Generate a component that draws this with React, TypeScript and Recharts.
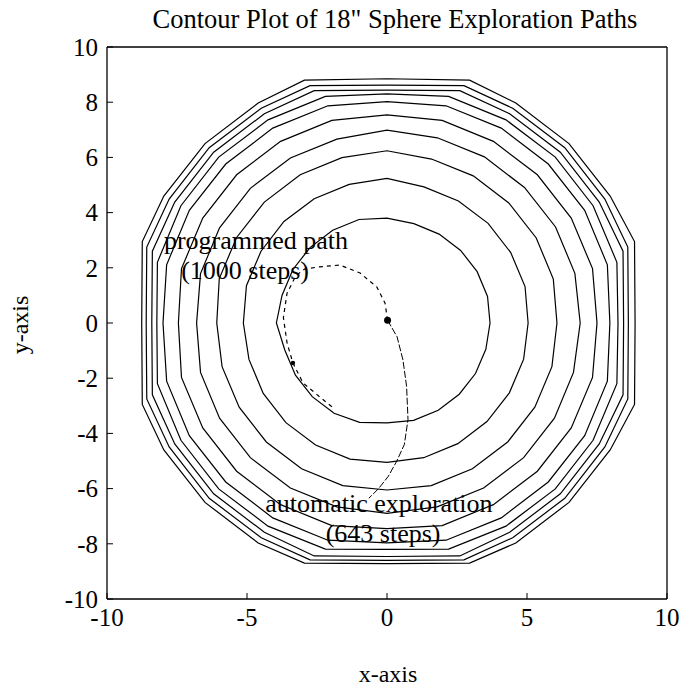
import { LineChart, Line, XAxis, YAxis, ReferenceDot } from "recharts";

type Pair = [number, number];

const xTicks = [-10, -5, 0, 5, 10];
const yTicks = [-10, -8, -6, -4, -2, 0, 2, 4, 6, 8, 10];

// contour vertices, innermost first
const contour1: Pair[] = [
  [3.68, 0], [3.59, 0.96], [3.22, 1.86], [2.63, 2.63], [1.86, 3.22], [0.96, 3.6], [0, 3.8],
  [-1.0, 3.75], [-1.94, 3.36], [-2.74, 2.74], [-3.36, 1.94], [-3.75, 1.0], [-3.95, 0],
  [-3.65, -0.98], [-3.27, -1.89], [-2.67, -2.67], [-1.89, -3.27], [-0.98, -3.6], [0, -3.62],
  [0.95, -3.53], [1.83, -3.16], [2.58, -2.58], [3.16, -1.83], [3.53, -0.95],
];
const contour2: Pair[] = [
  [5.04, 0], [4.93, 1.32], [4.42, 2.55], [3.61, 3.61], [2.55, 4.42], [1.32, 4.93], [0, 5.24],
  [-1.35, 5.02], [-2.6, 4.5], [-3.68, 3.68], [-4.5, 2.6], [-5.02, 1.35], [-5.13, 0],
  [-4.93, -1.32], [-4.42, -2.55], [-3.61, -3.61], [-2.55, -4.42], [-1.32, -4.93], [0, -5.05],
  [1.31, -4.88], [2.53, -4.37], [3.57, -3.57], [4.37, -2.53], [4.88, -1.31],
];
const contour3: Pair[] = [
  [6.07, 0], [5.94, 1.59], [5.33, 3.08], [4.35, 4.35], [3.08, 5.33], [1.59, 5.94], [0, 6.24],
  [-1.61, 5.99], [-3.1, 5.37], [-4.38, 4.38], [-5.37, 3.1], [-5.99, 1.61], [-6.08, 0],
  [-5.89, -1.58], [-5.28, -3.05], [-4.31, -4.31], [-3.05, -5.28], [-1.58, -5.89], [0, -6.05],
  [1.58, -5.89], [3.05, -5.28], [4.31, -4.31], [5.28, -3.05], [5.89, -1.58],
];
const contour4: Pair[] = [
  [6.9, 0], [6.71, 1.8], [6.02, 3.48], [4.91, 4.91], [3.48, 6.02], [1.8, 6.71], [0, 6.99],
  [-1.79, 6.66], [-3.45, 5.98], [-4.88, 4.88], [-5.98, 3.45], [-6.66, 1.79], [-6.8, 0],
  [-6.66, -1.79], [-5.98, -3.45], [-4.88, -4.88], [-3.45, -5.98], [-1.79, -6.66], [0, -6.9],
  [1.79, -6.66], [3.45, -5.98], [4.88, -4.88], [5.98, -3.45], [6.66, -1.79],
];
const contour5: Pair[] = [
  [7.5, 0], [7.34, 1.97], [6.58, 3.8], [5.37, 5.37], [3.8, 6.58], [1.97, 7.34], [0, 7.54],
  [-1.97, 7.34], [-3.8, 6.58], [-5.37, 5.37], [-6.58, 3.8], [-7.34, 1.97], [-7.45, 0],
  [-7.34, -1.97], [-6.58, -3.8], [-5.37, -5.37], [-3.8, -6.58], [-1.97, -7.34], [0, -7.45],
  [1.97, -7.34], [3.8, -6.58], [5.37, -5.37], [6.58, -3.8], [7.34, -1.97],
];
const contour6: Pair[] = [
  [7.96, 0], [7.87, 2.11], [7.06, 4.08], [5.76, 5.76], [4.08, 7.06], [2.11, 7.87], [0, 8.02],
  [-2.11, 7.87], [-4.08, 7.06], [-5.76, 5.76], [-7.06, 4.08], [-7.87, 2.11], [-8.0, 0],
  [-7.87, -2.11], [-7.06, -4.08], [-5.76, -5.76], [-4.08, -7.06], [-2.11, -7.87], [0, -7.97],
  [2.11, -7.87], [4.08, -7.06], [5.76, -5.76], [7.06, -4.08], [7.87, -2.11],
];
const contour7: Pair[] = [
  [8.25, 0], [8.21, 2.2], [7.36, 4.25], [6.01, 6.01], [4.25, 7.36], [2.2, 8.21], [0, 8.3],
  [-2.2, 8.21], [-4.25, 7.36], [-6.01, 6.01], [-7.36, 4.25], [-8.2, 2.2], [-8.22, 0],
  [-8.2, -2.2], [-7.36, -4.25], [-6.01, -6.01], [-4.25, -7.36], [-2.2, -8.19], [0, -8.2],
  [2.2, -8.19], [4.25, -7.36], [6.01, -6.01], [7.36, -4.25], [8.21, -2.2],
];
const contour8: Pair[] = [
  [8.45, 0], [8.43, 2.6], [7.58, 4.38], [6.19, 6.19], [4.38, 7.58], [2.6, 8.42], [0, 8.44],
  [-2.6, 8.42], [-4.38, 7.58], [-6.19, 6.19], [-7.58, 4.38], [-8.38, 2.6], [-8.4, 0],
  [-8.38, -2.6], [-7.58, -4.38], [-6.19, -6.19], [-4.38, -7.58], [-2.6, -8.44], [0, -8.46],
  [2.6, -8.44], [4.38, -7.58], [6.19, -6.19], [7.58, -4.38], [8.43, -2.6],
];
const contour9: Pair[] = [
  [8.62, 0], [8.6, 2.75], [7.78, 4.49], [6.35, 6.35], [4.49, 7.78], [2.75, 8.6], [0, 8.62],
  [-2.75, 8.6], [-4.49, 7.78], [-6.35, 6.35], [-7.78, 4.49], [-8.58, 2.75], [-8.6, 0],
  [-8.58, -2.75], [-7.78, -4.49], [-6.35, -6.35], [-4.49, -7.78], [-2.75, -8.58], [0, -8.6],
  [2.75, -8.58], [4.49, -7.78], [6.35, -6.35], [7.78, -4.49], [8.6, -2.75],
];
const contour10: Pair[] = [
  [8.86, 0], [8.84, 2.95], [7.97, 4.6], [6.5, 6.5], [4.6, 7.97], [2.95, 8.8], [0, 8.85],
  [-2.95, 8.8], [-4.6, 7.97], [-6.5, 6.5], [-7.97, 4.6], [-8.74, 2.95], [-8.76, 0],
  [-8.74, -2.95], [-7.97, -4.6], [-6.5, -6.5], [-4.6, -7.97], [-2.95, -8.7], [0, -8.72],
  [2.95, -8.7], [4.6, -7.97], [6.5, -6.5], [7.97, -4.6], [8.84, -2.95],
];
const contours = [
  contour1, contour2, contour3, contour4, contour5,
  contour6, contour7, contour8, contour9, contour10,
];

const programmedPath: Pair[] = [
  [0.02, 0.1], [-0.07, 0.72], [-0.36, 1.3], [-0.96, 1.81], [-1.68, 2.1], [-2.46, 2.03],
  [-2.95, 1.95], [-3.25, 1.72], [-3.57, 1.08], [-3.7, 0.2], [-3.57, -0.72], [-3.36, -1.45],
  [-3.0, -2.17], [-2.4, -2.68], [-1.95, -3.05],
];
const automaticPath: Pair[] = [
  [0.02, 0.1], [0.36, -0.5], [0.57, -1.34], [0.7, -2.3], [0.75, -3.5], [0.62, -4.4],
  [0.35, -5.0], [0.05, -5.55], [-0.3, -6.0], [-0.65, -6.35],
];
const startPoint: Pair = [0.02, 0.1];
const turnPoint: Pair = [-3.36, -1.45];

const notes = [
  { text: "programmed path", x: -4.68, y: 3.0 },
  { text: "(1000 steps)", x: -5.07, y: 1.93 },
  { text: "automatic exploration", x: -0.29, y: -6.52 },
  { text: "(643 steps)", x: -0.14, y: -7.6 },
];

const SERIF = '"Liberation Serif", "Times New Roman", serif';

const asPoints = (pts: Pair[]) => pts.map(([x, y]) => ({ x, y }));
const closeLoop = (pts: Pair[]) => asPoints([...pts, pts[0]]);

export default function App() {
  return (
    <div
      style={{
        position: "absolute",
        left: 8,
        top: 8,
        width: 673,
        height: 679,
        fontFamily: SERIF,
        color: "#000",
      }}
    >
      <LineChart width={673} height={679} margin={{ top: 29, right: 0, bottom: 48, left: 0 }}>
        <XAxis
          xAxisId="b"
          orientation="bottom"
          type="number"
          dataKey="x"
          domain={[-10, 10]}
          ticks={xTicks}
          interval={0}
          height={40}
          tickSize={-6}
          tickMargin={15}
          axisLine={{ stroke: "#000", strokeWidth: 1.3 }}
          tickLine={{ stroke: "#000" }}
          tick={{ fill: "#000", fontSize: 25 }}
          allowDataOverflow
        />
        <XAxis
          xAxisId="t"
          orientation="top"
          type="number"
          dataKey="x"
          domain={[-10, 10]}
          ticks={xTicks}
          interval={0}
          height={10}
          tickSize={-6}
          tick={false}
          axisLine={{ stroke: "#000", strokeWidth: 1.3 }}
          tickLine={{ stroke: "#000" }}
          allowDataOverflow
        />
        <YAxis
          yAxisId="l"
          orientation="left"
          type="number"
          dataKey="y"
          domain={[-10, 10]}
          ticks={yTicks}
          interval={0}
          width={99}
          tickSize={-6}
          tickMargin={15}
          axisLine={{ stroke: "#000", strokeWidth: 1.3 }}
          tickLine={{ stroke: "#000" }}
          tick={{ fill: "#000", fontSize: 25 }}
          allowDataOverflow
        />
        <YAxis
          yAxisId="r"
          orientation="right"
          type="number"
          dataKey="y"
          domain={[-10, 10]}
          ticks={yTicks}
          interval={0}
          width={14}
          tickSize={-6}
          tick={false}
          axisLine={{ stroke: "#000", strokeWidth: 1.3 }}
          tickLine={{ stroke: "#000" }}
          allowDataOverflow
        />
        {contours.map((c, i) => (
          <Line
            key={"c" + i}
            xAxisId="b"
            yAxisId="l"
            data={closeLoop(c)}
            dataKey="y"
            type="linear"
            stroke="#000"
            strokeWidth={1.2}
            dot={false}
            activeDot={false}
            isAnimationActive={false}
          />
        ))}
        <Line
          xAxisId="b"
          yAxisId="l"
          data={asPoints(programmedPath)}
          dataKey="y"
          type="linear"
          stroke="#000"
          strokeWidth={1.2}
          strokeDasharray="4 4"
          dot={false}
          activeDot={false}
          isAnimationActive={false}
        />
        <Line
          xAxisId="b"
          yAxisId="l"
          data={asPoints(automaticPath)}
          dataKey="y"
          type="linear"
          stroke="#000"
          strokeWidth={1}
          strokeDasharray="7 2"
          dot={false}
          activeDot={false}
          isAnimationActive={false}
        />
        <ReferenceDot xAxisId="b" yAxisId="l" x={startPoint[0]} y={startPoint[1]} r={3.5} fill="#000" stroke="none" />
        <ReferenceDot xAxisId="b" yAxisId="l" x={turnPoint[0]} y={turnPoint[1]} r={2.2} fill="#000" stroke="none" />
        {notes.map((n) => (
          <ReferenceDot
            key={n.text}
            xAxisId="b"
            yAxisId="l"
            x={n.x}
            y={n.y}
            r={0}
            fill="none"
            stroke="none"
            label={{ value: n.text, position: "center", fontSize: 26, fill: "#000" }}
          />
        ))}
      </LineChart>
      <div style={{ position: "absolute", left: 0, width: 774, top: -2, textAlign: "center", fontSize: 26.5, lineHeight: "26px", whiteSpace: "nowrap" }}>
        Contour Plot of 18" Sphere Exploration Paths
      </div>
      <div style={{ position: "absolute", left: 0, width: 760, top: 654, textAlign: "center", fontSize: 24, lineHeight: "24px" }}>
        x-axis
      </div>
      <div
        style={{
          position: "absolute",
          left: 12,
          top: 317,
          fontSize: 24,
          lineHeight: "24px",
          whiteSpace: "nowrap",
          transform: "translate(-50%, -50%) rotate(-90deg)",
        }}
      >
        y-axis
      </div>
    </div>
  );
}
